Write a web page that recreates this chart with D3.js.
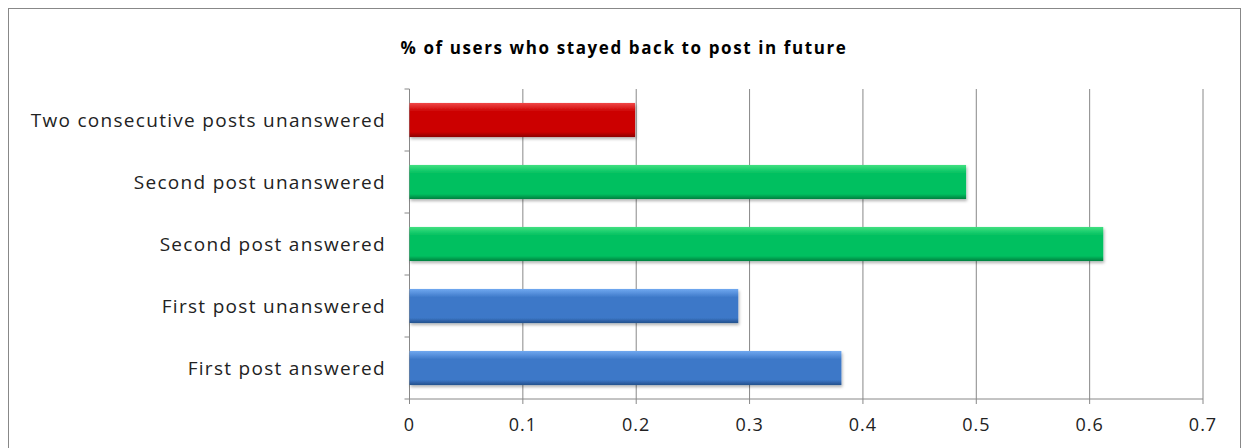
<!DOCTYPE html>
<html><head><meta charset="utf-8">
<script src="https://cdn.jsdelivr.net/npm/d3@7"></script>
<style>body{margin:0;background:#fff}</style></head>
<body><svg id="c" width="1250" height="448"></svg>
<script>
const categories = ["Two consecutive posts unanswered","Second post unanswered","Second post answered","First post unanswered","First post answered"];
const values = [0.199, 0.491, 0.612, 0.290, 0.381];
const colors = ["red","green","green","blue","blue"];
const ticks = [0,0.1,0.2,0.3,0.4,0.5,0.6,0.7];
const title = "% of users who stayed back to post in future";

const svg = d3.select("#c");
const pal = {red:["#f04848","#cc0000","#8c0000"],green:["#40e080","#00c060","#008040"],blue:["#70a8f0","#3c78c8","#24508c"]};
const defs = svg.append("defs");
Object.entries(pal).forEach(([k,c])=>{
  const g = defs.append("linearGradient").attr("id","g"+k).attr("x1",0).attr("y1",0).attr("x2",0).attr("y2",1);
  g.append("stop").attr("offset","0%").attr("stop-color",c[0]);
  g.append("stop").attr("offset","25%").attr("stop-color",c[1]);
  g.append("stop").attr("offset","85%").attr("stop-color",c[1]);
  g.append("stop").attr("offset","100%").attr("stop-color",c[2]);
});
const f = defs.append("filter").attr("id","sh").attr("x","-5%").attr("y","-20%").attr("width","110%").attr("height","160%");
f.append("feDropShadow").attr("dx",1).attr("dy",2).attr("stdDeviation",1.5).attr("flood-color","#000").attr("flood-opacity",0.3);

svg.append("rect").attr("x",8.5).attr("y",8.5).attr("width",1232).attr("height",460).attr("fill","none").attr("stroke","#888");
svg.append("text").attr("x",624).attr("y",54).attr("text-anchor","middle").attr("font-family","Open Sans, sans-serif").attr("font-weight","bold").attr("font-size",17).attr("letter-spacing",1.6).text(title);

const x = d3.scaleLinear().domain([0,0.7]).range([409.5,1203]);
const y = d3.scaleBand().domain(categories).range([89,399]).paddingInner(0.45).paddingOuter(0.225);
const band = (399-89)/5;

svg.append("g").selectAll("line").data(ticks).join("line")
  .attr("x1",d=>x(d)).attr("x2",d=>x(d)).attr("y1",89).attr("y2",399).attr("stroke","#888").attr("stroke-width",1);
svg.append("line").attr("x1",x(0)).attr("x2",x(0.7)).attr("y1",399).attr("y2",399).attr("stroke","#888");
svg.append("g").selectAll("line").data(d3.range(6)).join("line")
  .attr("x1",x(0)-5).attr("x2",x(0)).attr("y1",d=>89+d*band).attr("y2",d=>89+d*band).attr("stroke","#888");
svg.append("g").selectAll("line").data(ticks).join("line")
  .attr("x1",d=>x(d)).attr("x2",d=>x(d)).attr("y1",399).attr("y2",404).attr("stroke","#888");

svg.append("g").selectAll("rect").data(categories).join("rect")
  .attr("x",x(0)).attr("y",d=>y(d)).attr("width",(d,i)=>x(values[i])-x(0)).attr("height",y.bandwidth())
  .attr("fill",(d,i)=>"url(#g"+colors[i]+")").attr("filter","url(#sh)");

svg.append("g").selectAll("text").data(categories).join("text")
  .attr("x",386).attr("y",d=>y(d)+y.bandwidth()/2).attr("dy","0.35em").attr("text-anchor","end")
  .attr("font-family","Open Sans, sans-serif").attr("font-size",19).attr("letter-spacing",1.3).attr("fill","#222").text(d=>d);
svg.append("g").selectAll("text").data(ticks).join("text")
  .attr("x",d=>x(d)).attr("y",431).attr("text-anchor","middle")
  .attr("font-family","Open Sans, sans-serif").attr("font-size",18).attr("letter-spacing",1).attr("fill","#222").text(d=>d);
</script></body></html>
